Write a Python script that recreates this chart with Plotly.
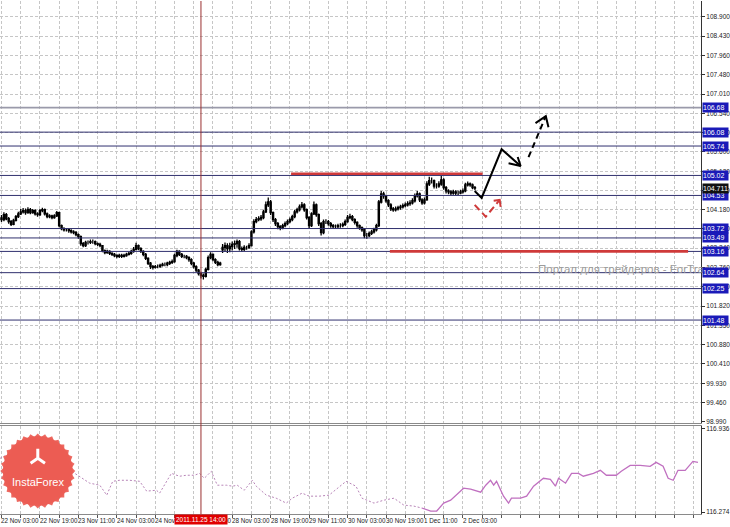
import plotly.graph_objects as go

# ---------------- data ----------------
bar_open = [103.98,103.94,104.06,103.96,103.89,103.82,103.92,104.01,104.08,104.13,
104.16,104.11,104.18,104.11,104.16,104.08,104.06,104.16,104.18,104.08,
104.01,104.03,103.99,104.03,104.11,103.79,103.72,103.69,103.69,103.67,
103.64,103.62,103.57,103.52,103.35,103.30,103.38,103.38,103.40,103.40,
103.35,103.33,103.30,103.18,103.13,103.16,103.11,103.09,103.06,103.04,
103.06,103.04,103.06,103.09,103.11,103.16,103.21,103.30,103.23,103.16,
103.09,102.99,102.87,102.79,102.77,102.79,102.79,102.82,102.84,102.84,
102.87,102.89,102.91,103.06,103.16,103.09,103.04,103.04,103.01,102.96,
102.87,102.79,102.70,102.62,102.57,102.55,102.72,103.01,103.09,102.96,
102.89,102.84,103.20,103.26,103.30,103.23,103.28,103.33,103.35,103.40,
103.23,103.21,103.26,103.26,103.30,103.64,103.89,103.94,103.96,103.99,
104.13,104.30,104.37,104.11,103.94,103.84,103.77,103.74,103.79,103.84,
103.89,103.94,104.01,104.13,104.18,104.25,104.30,104.18,103.99,103.79,
104.08,104.30,104.06,103.84,103.62,103.89,103.89,103.84,103.79,103.77,
103.77,103.79,103.79,103.82,103.89,103.99,104.01,103.94,103.87,103.79,
103.74,103.69,103.55,103.55,103.60,103.64,103.69,103.79,104.37,104.57,
104.52,104.40,104.30,104.20,104.18,104.20,104.23,104.25,104.28,104.30,
104.33,104.35,104.40,104.52,104.57,104.42,104.35,104.42,104.81,104.89,
104.89,104.76,104.76,104.81,104.91,104.72,104.64,104.62,104.59,104.62,
104.59,104.59,104.62,104.64,104.79,104.81,104.79,104.72]

bar_high = [104.05,104.12,104.10,104.00,103.93,103.96,104.05,104.13,104.20,104.22,
104.21,104.24,104.22,104.20,104.19,104.12,104.20,104.23,104.21,104.11,
104.07,104.06,104.07,104.15,104.13,103.82,103.75,103.73,103.72,103.70,
103.68,103.66,103.60,103.55,103.39,103.42,103.43,103.45,103.45,103.43,
103.38,103.37,103.32,103.21,103.20,103.19,103.14,103.12,103.09,103.10,
103.10,103.10,103.13,103.15,103.20,103.27,103.37,103.33,103.26,103.19,
103.12,103.02,102.90,102.83,102.83,102.84,102.86,102.88,102.89,102.91,
102.93,102.96,103.10,103.20,103.19,103.12,103.08,103.07,103.04,102.99,
102.90,102.82,102.73,102.66,102.62,102.76,103.06,103.14,103.11,102.99,
102.93,102.91,103.34,103.38,103.36,103.37,103.40,103.43,103.45,103.44,
103.28,103.31,103.30,103.36,103.68,103.95,104.00,104.02,104.05,104.18,
104.38,104.48,104.42,104.14,103.98,103.88,103.80,103.84,103.89,103.94,
103.99,104.06,104.18,104.23,104.31,104.37,104.34,104.21,104.02,104.12,
104.38,104.33,104.09,103.88,103.94,103.95,103.93,103.88,103.83,103.82,
103.84,103.85,103.87,103.94,104.05,104.08,104.05,103.97,103.90,103.82,
103.77,103.72,103.61,103.65,103.69,103.74,103.84,104.42,104.64,104.62,
104.55,104.44,104.34,104.25,104.26,104.28,104.30,104.33,104.36,104.39,
104.41,104.46,104.58,104.64,104.60,104.46,104.48,104.88,104.99,104.97,
104.92,104.83,104.88,105.02,104.95,104.76,104.68,104.66,104.67,104.66,
104.65,104.67,104.70,104.84,104.87,104.85,104.82,104.76]

bar_low = [103.88,103.90,103.92,103.84,103.78,103.80,103.89,103.98,104.05,104.09,
104.06,104.08,104.07,104.08,104.04,104.01,104.03,104.12,104.04,103.97,
103.97,103.95,103.96,104.00,103.75,103.68,103.65,103.65,103.62,103.60,
103.58,103.53,103.47,103.30,103.26,103.27,103.33,103.34,103.35,103.31,
103.29,103.26,103.14,103.09,103.10,103.07,103.05,103.02,102.99,103.00,
103.00,103.01,103.03,103.06,103.08,103.13,103.18,103.19,103.12,103.04,
102.95,102.83,102.73,102.72,102.74,102.75,102.76,102.79,102.80,102.80,
102.83,102.85,102.88,103.02,103.05,103.00,102.99,102.97,102.91,102.82,
102.74,102.65,102.57,102.50,102.47,102.52,102.69,102.97,102.92,102.85,
102.80,102.81,103.12,103.15,103.12,103.14,103.18,103.22,103.25,103.18,
103.15,103.17,103.20,103.22,103.28,103.60,103.85,103.90,103.91,103.95,
104.10,104.25,104.05,103.88,103.78,103.70,103.68,103.70,103.75,103.80,
103.85,103.90,103.97,104.09,104.14,104.21,104.13,103.94,103.72,103.76,
104.05,104.01,103.78,103.55,103.58,103.83,103.79,103.74,103.72,103.72,
103.73,103.74,103.75,103.78,103.86,103.95,103.90,103.82,103.74,103.69,
103.64,103.48,103.47,103.51,103.56,103.60,103.65,103.76,104.33,104.45,
104.35,104.25,104.15,104.13,104.14,104.16,104.18,104.21,104.24,104.26,
104.28,104.31,104.36,104.48,104.37,104.30,104.31,104.40,104.76,104.82,
104.70,104.70,104.72,104.77,104.67,104.58,104.56,104.54,104.55,104.54,
104.54,104.56,104.58,104.61,104.75,104.74,104.68,104.66]

bar_close = [103.94,104.06,103.96,103.89,103.82,103.92,104.01,104.08,104.13,104.16,
104.11,104.18,104.11,104.16,104.08,104.06,104.16,104.18,104.08,104.01,
104.03,103.99,104.03,104.11,103.79,103.72,103.69,103.69,103.67,103.64,
103.62,103.57,103.52,103.35,103.30,103.38,103.38,103.40,103.40,103.35,
103.33,103.30,103.18,103.13,103.16,103.11,103.09,103.06,103.04,103.06,
103.04,103.06,103.09,103.11,103.16,103.21,103.30,103.23,103.16,103.09,
102.99,102.87,102.79,102.77,102.79,102.79,102.82,102.84,102.84,102.87,
102.89,102.91,103.06,103.16,103.09,103.04,103.04,103.01,102.96,102.87,
102.79,102.70,102.62,102.57,102.55,102.72,103.01,103.09,102.96,102.89,
102.84,102.87,103.26,103.30,103.23,103.28,103.33,103.35,103.40,103.23,
103.21,103.26,103.26,103.30,103.64,103.89,103.94,103.96,103.99,104.13,
104.30,104.37,104.11,103.94,103.84,103.77,103.74,103.79,103.84,103.89,
103.94,104.01,104.13,104.18,104.25,104.30,104.18,103.99,103.79,104.08,
104.30,104.06,103.84,103.62,103.89,103.89,103.84,103.79,103.77,103.77,
103.79,103.79,103.82,103.89,103.99,104.01,103.94,103.87,103.79,103.74,
103.69,103.55,103.55,103.60,103.64,103.69,103.79,104.37,104.57,104.52,
104.40,104.30,104.20,104.18,104.20,104.23,104.25,104.28,104.30,104.33,
104.35,104.40,104.52,104.57,104.42,104.35,104.42,104.81,104.89,104.89,
104.76,104.76,104.81,104.91,104.72,104.64,104.62,104.59,104.62,104.59,
104.59,104.62,104.64,104.79,104.81,104.79,104.72,104.71]

bar_idx = list(range(len(bar_close)))

time_tick_idx = [0, 16, 32, 48, 64, 80, 96, 112, 128, 144, 160, 176, 192]
time_tick_text = ["22 Nov 03:00", "22 Nov 19:00", "23 Nov 11:00", "24 Nov 03:00",
                  "24 Nov 19:00", "25 Nov 11:00", "28 Nov 03:00", "28 Nov 19:00",
                  "29 Nov 11:00", "30 Nov 03:00", "30 Nov 19:00", "1 Dec 11:00",
                  "2 Dec 03:00"]
cursor_idx = 83
cursor_text = "2011.11.25 14:00"

price_ticks = [108.900, 108.430, 107.960, 107.480, 107.010, 106.540, 106.070, 105.600,
               105.120, 104.650, 104.180, 103.710, 103.240, 102.760, 102.290, 101.820,
               101.350, 100.880, 100.410, 99.930, 99.460, 98.990]
price_tick_text = ["108.900", "108.430", "107.960", "107.480", "107.010", "106.540",
                   "106.070", "105.600", "105.120", "104.650", "104.180", "103.710",
                   "103.240", "102.760", "102.290", "101.820", "101.350", "100.880",
                   "100.410", "99.930", "99.460", "98.990"]

levels = [106.68, 106.08, 105.74, 105.02, 104.53, 103.72, 103.49, 103.16, 102.64, 102.25, 101.48]
level_text = ["106.68", "106.08", "105.74", "105.02", "104.53", "103.72", "103.49",
              "103.16", "102.64", "102.25", "101.48"]
current_price = 104.711

red_upper_x = [120.5, 200.2]
red_upper_y = [105.06, 105.06]
red_lower_x = [161.6, 285.7]
red_lower_y = [103.16, 103.16]

# hand-drawn forecast arrows (bar index, price)
black_path_x = [196.9, 199.8, 208.1, 216.0]
black_path_y = [104.64, 104.47, 105.66, 105.25]
black_head_x = [211.0, 216.0, 214.8]
black_head_y = [105.32, 105.25, 105.47]
black_dash_x = [219.3, 226.5]
black_dash_y = [105.47, 106.47]
black_dash_head_x = [222.2, 226.5, 227.6]
black_dash_head_y = [106.30, 106.47, 106.20]
red_dash_x = [196.9, 201.5, 207.3]
red_dash_y = [104.30, 104.01, 104.42]
red_dash_head_x = [204.8, 207.3, 207.7]
red_dash_head_y = [104.40, 104.42, 104.25]

# lower indicator panel
ind_dot_x = [-0.6, 3.5, 8.5, 11.8, 18.0, 27.2, 31.7, 36.7, 40.9, 43.8, 46.3, 49.2, 53.3,
             57.5, 60.4, 64.5, 65.8, 70.7, 74.1, 77.0, 80.3, 82.4, 84.4, 87.3, 89.8,
             93.6, 96.1, 98.1, 101.0, 104.4, 106.0, 110.2, 114.3, 118.5, 121.0, 125.1,
             128.0, 132.2, 136.3, 143.4, 147.5, 150.0, 155.0, 159.1, 163.3, 167.4,
             171.6, 174.9]
ind_dot_v = [116.700, 116.739, 116.763, 116.684, 116.660, 116.621, 116.566, 116.503,
             116.487, 116.408, 116.518, 116.526, 116.526, 116.518, 116.440, 116.447,
             116.424, 116.581, 116.558, 116.566, 116.566, 116.581, 116.542, 116.597,
             116.487, 116.487, 116.479, 116.487, 116.447, 116.526, 116.479, 116.408,
             116.384, 116.345, 116.384, 116.424, 116.400, 116.400, 116.408, 116.518,
             116.479, 116.384, 116.345, 116.368, 116.384, 116.329, 116.321, 116.306]
ind_sol_x = [174.9, 178.6, 181.1, 184.0, 186.9, 192.3, 195.2, 199.4, 201.5, 203.5, 204.8,
             206.0, 208.9, 211.0, 212.2, 216.0, 218.5, 221.4, 225.5, 228.4, 230.5,
             231.8, 234.7, 237.2, 240.1, 242.1, 246.3, 249.2, 251.7, 255.8, 257.9,
             261.6, 265.8, 269.9, 272.4, 275.3, 277.4, 279.5, 281.5, 284.5, 287.7, 289.8]
ind_sol_v = [116.306, 116.282, 116.282, 116.345, 116.368, 116.463, 116.455, 116.432,
             116.487, 116.526, 116.487, 116.518, 116.400, 116.345, 116.384, 116.384,
             116.400, 116.479, 116.542, 116.534, 116.479, 116.542, 116.503, 116.581,
             116.581, 116.558, 116.581, 116.605, 116.566, 116.566, 116.597, 116.644,
             116.644, 116.637, 116.668, 116.637, 116.542, 116.526, 116.605, 116.605,
             116.676, 116.668]
ind_ticks = [116.936, 116.274]
ind_tick_text = ["116.936", "116.274"]

logo_pos_x = [15.1]
logo_pos_v = [116.600]

# ---------------- layout constants ----------------
W, H = 730, 527
X_DOM = [0, 703 / W]
Y_MAIN = [1 - 424 / H, 1]
Y_IND = [1 - 516 / H, 1 - 427 / H]
X_RANGE = [-0.62, 291.1]
Y_RANGE = [98.97, 109.29]
IND_RANGE = [116.258, 116.960]
FONT = "Liberation Sans, Arial, sans-serif"
LEVEL_COLOR = "#30306e"
RED = "#cf3a3a"

fig = go.Figure()

fig.add_trace(go.Candlestick(
    x=bar_idx, open=bar_open, high=bar_high, low=bar_low, close=bar_close,
    increasing=dict(line=dict(color="black", width=1.3), fillcolor="white"),
    decreasing=dict(line=dict(color="black", width=1.3), fillcolor="black"),
    whiskerwidth=0, xaxis="x", yaxis="y", showlegend=False, hoverinfo="skip"))

# level lines
for i, lv in enumerate(levels):
    col = "#9a9aaa" if i == 0 else LEVEL_COLOR
    wid = 1.6 if i == 0 else 1
    fig.add_trace(go.Scatter(x=X_RANGE, y=[lv, lv], mode="lines",
                             line=dict(color=col, width=wid), xaxis="x", yaxis="y",
                             showlegend=False, hoverinfo="skip"))

# red horizontal lines
for xs, ys in [(red_upper_x, red_upper_y), (red_lower_x, red_lower_y)]:
    fig.add_trace(go.Scatter(x=xs, y=ys, mode="lines", line=dict(color=RED, width=2.6),
                             xaxis="x", yaxis="y", showlegend=False, hoverinfo="skip"))

# forecast arrows
for xs, ys in [(black_path_x, black_path_y), (black_head_x, black_head_y),
               (black_dash_head_x, black_dash_head_y)]:
    fig.add_trace(go.Scatter(x=xs, y=ys, mode="lines", line=dict(color="black", width=2),
                             xaxis="x", yaxis="y", showlegend=False, hoverinfo="skip"))
fig.add_trace(go.Scatter(x=black_dash_x, y=black_dash_y, mode="lines",
                         line=dict(color="black", width=2, dash="6px,4px"),
                         xaxis="x", yaxis="y", showlegend=False, hoverinfo="skip"))
fig.add_trace(go.Scatter(x=red_dash_x, y=red_dash_y, mode="lines",
                         line=dict(color=RED, width=2, dash="7px,4px"),
                         xaxis="x", yaxis="y", showlegend=False, hoverinfo="skip"))
fig.add_trace(go.Scatter(x=red_dash_head_x, y=red_dash_head_y, mode="lines",
                         line=dict(color=RED, width=2),
                         xaxis="x", yaxis="y", showlegend=False, hoverinfo="skip"))

# indicator
fig.add_trace(go.Scatter(x=ind_dot_x, y=ind_dot_v, mode="lines",
                         line=dict(color="#b784b7", width=1, dash="2px,2px"),
                         xaxis="x2", yaxis="y2", showlegend=False, hoverinfo="skip"))
fig.add_trace(go.Scatter(x=ind_sol_x, y=ind_sol_v, mode="lines",
                         line=dict(color="#c070c0", width=1.3),
                         xaxis="x2", yaxis="y2", showlegend=False, hoverinfo="skip"))

# InstaForex badge (decoration)
fig.add_trace(go.Scatter(x=logo_pos_x * 8, y=logo_pos_v * 8, mode="markers",
                         marker=dict(symbol="square", size=53, color="rgba(236,92,84,0.92)",
                                     angle=[0, 11.25, 22.5, 33.75, 45, 56.25, 67.5, 78.75],
                                     line=dict(width=0)),
                         xaxis="x2", yaxis="y2", cliponaxis=False, showlegend=False,
                         hoverinfo="skip"))
fig.add_trace(go.Scatter(x=logo_pos_x, y=logo_pos_v, mode="markers",
                         marker=dict(symbol="circle", size=70, color="rgba(236,92,84,0.92)",
                                     line=dict(width=0)),
                         xaxis="x2", yaxis="y2", cliponaxis=False, showlegend=False,
                         hoverinfo="skip"))
fig.add_trace(go.Scatter(x=logo_pos_x, y=[116.700], mode="markers",
                         marker=dict(symbol="y-up-open", size=12, color="white",
                                     line=dict(color="white", width=3)),
                         xaxis="x2", yaxis="y2", cliponaxis=False, showlegend=False,
                         hoverinfo="skip"))

shapes = [
    dict(type="line", xref="x", yref="paper", x0=cursor_idx, x1=cursor_idx,
         y0=Y_IND[0], y1=1, line=dict(color="#9a3030", width=1)),
]

annotations = []
# watermark
annotations.append(dict(text="Портал для трейдеров - ForTrad", xref="paper", yref="paper",
                        x=537 / W, y=1 - 270 / H, xanchor="left", yanchor="middle",
                        showarrow=False, font=dict(family=FONT, size=11.5, color="#9c9c9c")))
annotations.append(dict(text="InstaForex", xref="x2", yref="y2", x=logo_pos_x[0], y=116.51,
                        showarrow=False, font=dict(family=FONT, size=11, color="white")))
# time labels
for ix, tt in zip(time_tick_idx, time_tick_text):
    annotations.append(dict(text=tt, xref="x2", yref="paper", x=ix, y=1 - 522 / H,
                            xanchor="left", yanchor="middle", xshift=-2, showarrow=False,
                            font=dict(family=FONT, size=6.3, color="#222222")))
annotations.append(dict(text=cursor_text, xref="x2", yref="paper", x=cursor_idx,
                        y=1 - 521.5 / H, xanchor="center", yanchor="middle",
                        showarrow=False, bgcolor="#e00000", borderpad=1,
                        font=dict(family=FONT, size=6.5, color="white")))
# level labels
for lv, lt in zip(levels, level_text):
    annotations.append(dict(text=lt, xref="paper", yref="y", x=704 / W, y=lv,
                            xanchor="left", yanchor="middle", showarrow=False,
                            bgcolor="#1a1ab8", borderpad=0, width=25, height=9,
                            align="left",
                            font=dict(family=FONT, size=7, color="white")))
annotations.append(dict(text="104.711", xref="paper", yref="y", x=704 / W, y=current_price,
                        xanchor="left", yanchor="middle", showarrow=False,
                        bgcolor="#111111", borderpad=0, width=25, height=9, align="left",
                        font=dict(family=FONT, size=7, color="white")))

axis_font = dict(family=FONT, size=6.5, color="#222222")
grid = dict(showgrid=True, gridcolor="#c6c6c6", griddash="3px,2px", gridwidth=1)

fig.update_layout(
    width=W, height=H, margin=dict(l=0, r=0, t=0, b=0),
    paper_bgcolor="white", plot_bgcolor="white", showlegend=False,
    xaxis=dict(domain=X_DOM, range=X_RANGE, anchor="y", tickmode="linear", tick0=0, dtick=8,
               showticklabels=False, ticks="", zeroline=False, showline=True,
               linecolor="#8a8a8a", linewidth=1, rangeslider=dict(visible=False), **grid),
    yaxis=dict(domain=Y_MAIN, range=Y_RANGE, anchor="x", side="right",
               tickmode="array", tickvals=price_ticks, ticktext=price_tick_text,
               ticks="outside", ticklen=3, tickcolor="#333333", tickfont=axis_font,
               zeroline=False, showline=True, linecolor="#333333", linewidth=1, **grid),
    xaxis2=dict(domain=X_DOM, range=X_RANGE, anchor="y2", tickmode="linear", tick0=0,
                dtick=8, showticklabels=False, ticks="outside", ticklen=3,
                tickcolor="#555555", zeroline=False, showline=True, mirror=True,
                linecolor="#8a8a8a", linewidth=1, **grid),
    yaxis2=dict(domain=Y_IND, range=IND_RANGE, anchor="x2", side="right",
                tickmode="array", tickvals=ind_ticks, ticktext=ind_tick_text,
                ticks="outside", ticklen=3, tickcolor="#333333", tickfont=axis_font,
                showgrid=False, zeroline=False, showline=True, linecolor="#333333",
                linewidth=1),
    shapes=shapes, annotations=annotations,
)

fig.write_html("out.html", config={"displayModeBar": False},
               post_script="document.body.style.margin='0';document.body.style.overflow='hidden';")
